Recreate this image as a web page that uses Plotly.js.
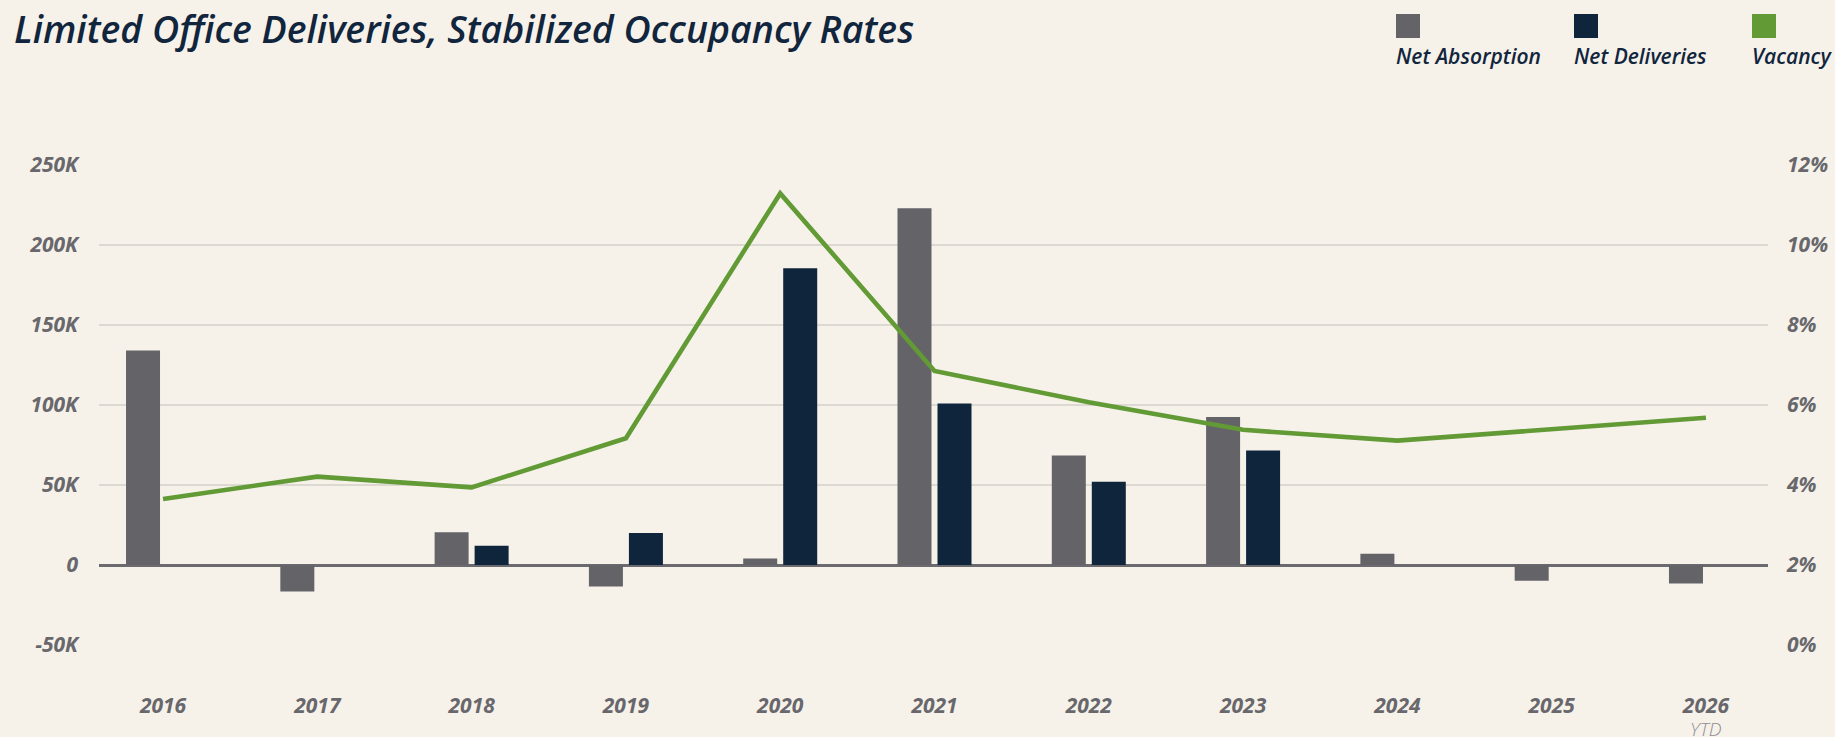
<!DOCTYPE html>
<html>
<head>
<meta charset="utf-8">
<script src="https://cdn.plot.ly/plotly-3.0.1.min.js"></script>
<style>
  html, body { margin: 0; padding: 0; background: #f6f2ea; }
  #chart { width: 1835px; height: 737px; }
  #chart svg text { font-stretch: 92%; }
</style>
</head>
<body>
<div id="chart"></div>
<script>
// ---- data ----
const years = ['2016','2017','2018','2019','2020','2021','2022','2023','2024','2025','2026'];
const yearLabels = ['2016','2017','2018','2019','2020','2021','2022','2023','2024','2025','2026'];
const ytdNote = 'YTD';
const netAbsorption = [134000, -16500, 20500, -13500, 4000, 223000, 68500, 92500, 7000, -9800, -11500];
const netDeliveries = [0, 0, 12000, 20000, 185500, 101000, 52000, 71500, 0, 0, 0];
const vacancy = [3.65, 4.21, 3.94, 5.17, 11.29, 6.85, 6.07, 5.38, 5.11, 5.39, 5.68];
const leftTickVals = [-50000, 0, 50000, 100000, 150000, 200000, 250000];
const leftTickText = ['-50K', '0', '50K', '100K', '150K', '200K', '250K'];
const rightTickVals = [0, 2, 4, 6, 8, 10, 12];
const rightTickText = ['0%', '2%', '4%', '6%', '8%', '10%', '12%'];
const legendNames = ['Net Absorption', 'Net Deliveries', 'Vacancy'];

// ---- style ----
const W = 1835, H = 737;
const M = {l: 99, r: 67, t: 165, b: 92};
const C = {bg: '#f6f2ea', abs: '#646368', del: '#0f253c', vac: '#629a35',
           title: '#11253d', tick: '#68676c', grid: '#dcd8d2', zero: '#6b6a6f'};
const FONT = '"Open Sans", "Noto Sans", sans-serif';
const pw = W - M.l - M.r, ph = H - M.t - M.b;
const px2x = p => (p - M.l) / pw;
const px2y = p => (H - M.b - p) / ph;
const xRange = [-0.415, 10.402];
// paper-x of the last category centre, derived from the axis range
const lastCatPaper = (years.length - 1 - xRange[0]) / (xRange[1] - xRange[0]);

const traces = [
  {type: 'bar', name: legendNames[0], x: years, y: netAbsorption, marker: {color: C.abs},
   yaxis: 'y', hoverinfo: 'skip'},
  {type: 'bar', name: legendNames[1], x: years, y: netDeliveries, marker: {color: C.del},
   yaxis: 'y', hoverinfo: 'skip'},
  {type: 'scatter', mode: 'lines', name: legendNames[2], x: years, y: vacancy, yaxis: 'y2',
   line: {color: C.vac, width: 4.6}, hoverinfo: 'skip'}
];

const legendX = [1396, 1574, 1752];
const shapes = [], annotations = [];
[C.abs, C.del, C.vac].forEach((col, i) => {
  shapes.push({type: 'rect', xref: 'paper', yref: 'paper',
    x0: px2x(legendX[i]), x1: px2x(legendX[i] + 24), y0: px2y(38), y1: px2y(14),
    fillcolor: col, line: {width: 0}});
  annotations.push({xref: 'paper', yref: 'paper', x: px2x(legendX[i] - 2), y: px2y(56),
    xanchor: 'left', yanchor: 'middle', showarrow: false, text: legendNames[i],
    font: {family: FONT, size: 21, color: C.title, style: 'italic', weight: 600}});
});
annotations.push({xref: 'paper', yref: 'paper', x: lastCatPaper, y: px2y(714),
  xanchor: 'center', yanchor: 'top', showarrow: false, text: ytdNote,
  font: {family: FONT, size: 19, color: '#8f8e92', style: 'italic', weight: 300}});

const tickFont = {family: FONT, size: 21, color: C.tick, style: 'italic', weight: 700};

const layout = {
  width: W, height: H,
  margin: M,
  paper_bgcolor: C.bg, plot_bgcolor: C.bg,
  showlegend: false,
  barmode: 'group', bargap: 0.4815, bargroupgap: 0.15,
  title: {text: 'Limited Office Deliveries, Stabilized Occupancy Rates',
    xref: 'container', yref: 'container', x: 14 / W, xanchor: 'left',
    y: 1 - 30 / H, yanchor: 'middle',
    font: {family: FONT, size: 37.5, color: C.title, style: 'italic', weight: 600}},
  xaxis: {type: 'category', range: xRange, tickvals: years, ticktext: yearLabels,
    showgrid: false, zeroline: false, showline: false, ticks: '',
    tickfont: tickFont, ticklabelstandoff: 46, fixedrange: true},
  yaxis: {range: [-50000, 250000], tickvals: leftTickVals, ticktext: leftTickText,
    showgrid: true, gridcolor: C.grid, gridwidth: 2,
    zeroline: true, zerolinecolor: C.zero, zerolinewidth: 3,
    showline: false, ticks: '', tickfont: tickFont, ticklabelstandoff: 20, fixedrange: true},
  yaxis2: {overlaying: 'y', side: 'right', range: [0, 12], tickvals: rightTickVals,
    ticktext: rightTickText, showgrid: false, zeroline: false, showline: false, ticks: '',
    tickfont: tickFont, ticklabelstandoff: 18, fixedrange: true},
  shapes: shapes,
  annotations: annotations
};

Plotly.newPlot('chart', traces, layout, {displayModeBar: false, staticPlot: true});
</script>
</body>
</html>
